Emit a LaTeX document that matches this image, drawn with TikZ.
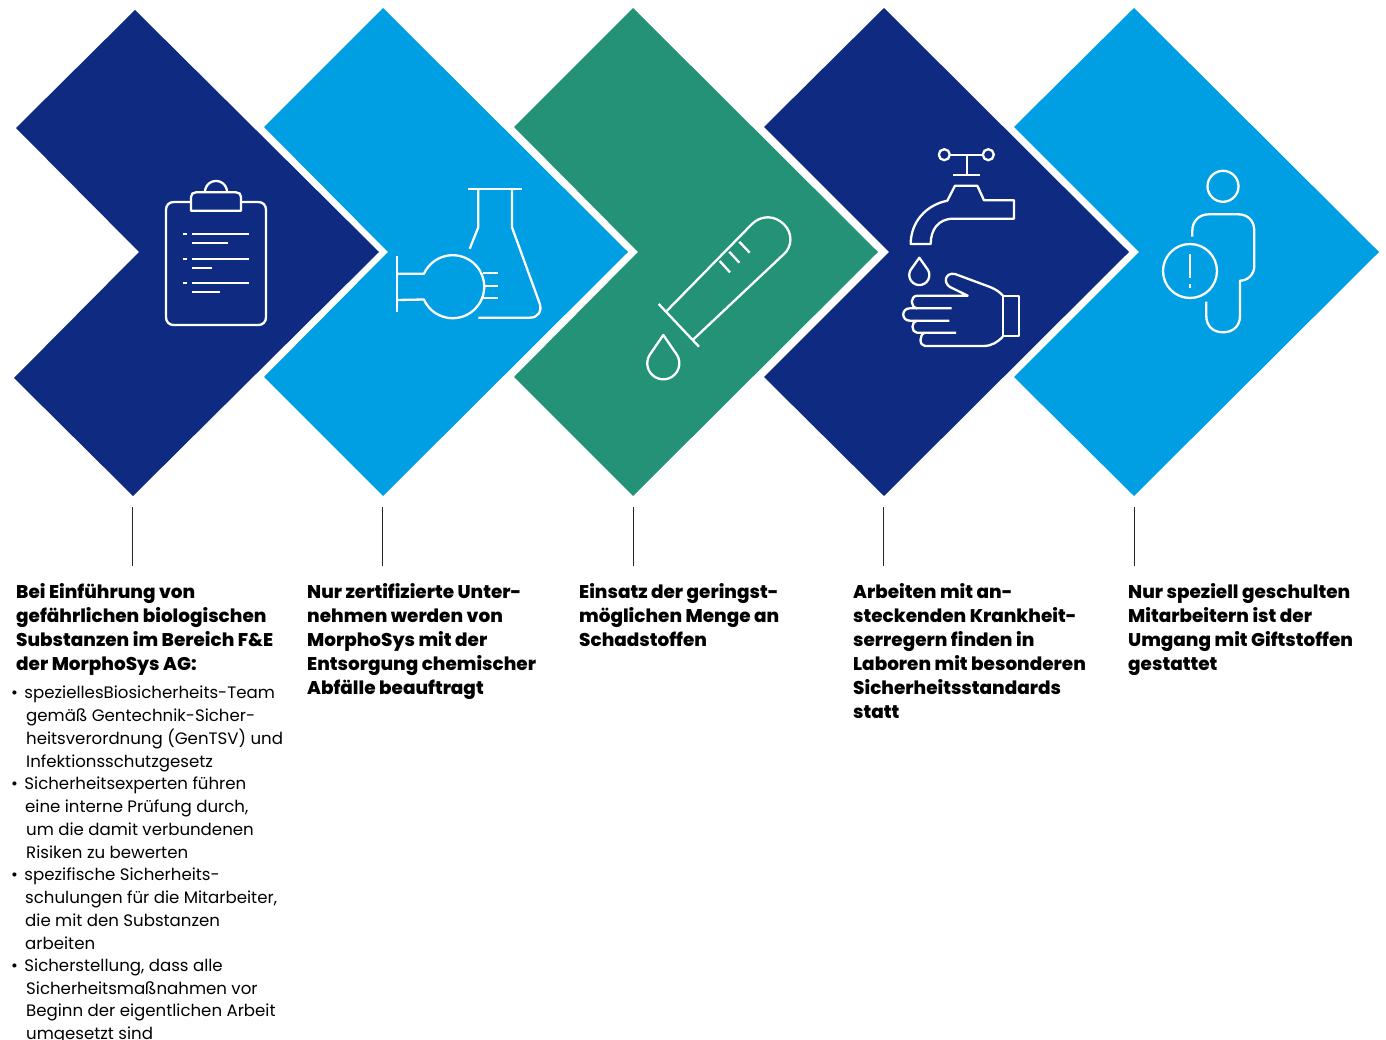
\documentclass[tikz,border=0pt]{standalone}
\usepackage{fontspec}
\setmainfont[BoldFont={Poppins ExtraBold}]{Poppins}
\definecolor{navy}{HTML}{0E2B81}
\definecolor{sky}{HTML}{009FE3}
\definecolor{teal}{HTML}{239277}
\tikzset{
  chev/.style={fill=#1,draw=none},
  icon/.style={draw=white,line width=2.3pt,line join=round},
  leader/.style={draw=black!85,line width=0.9pt},
  head/.style={anchor=north west,inner sep=0pt,align=left,font=\fontsize{18.4}{24}\selectfont\bfseries},
  body/.style={anchor=north west,inner sep=0pt,align=left,font=\fontsize{16.6}{22.75}\selectfont},
}
\newcommand{\chevron}[3]{% x of apex, colour, x of left corners
  \fill[chev=#2] (#1+0,8) -- (#1+245,252) -- (#1+0,496) -- (#3,377) -- (#1+5,252) -- (#3,127) -- cycle;
}
\newcommand{\droplet}[4]{% tip x, tip y, centre y, radius
  \draw[icon] plot[domain=-34:214,samples=40] ({#1+#4*cos(\x)},{#3+#4*sin(\x)}) -- (#1,#2) -- cycle;
}
\begin{document}
\begin{tikzpicture}[x=1pt,y=-1pt]
\useasboundingbox (0,0) rectangle (1386,1040);
% chevrons
\fill[chev=navy] (135,10) -- (379,252) -- (133,496) -- (14,378) -- (139,252) -- (16,128) -- cycle;
\chevron{383}{sky}{264}
\chevron{633}{teal}{514}
\chevron{884}{navy}{764}
\chevron{1134}{sky}{1014}
% clipboard
\draw[icon] (191,202) -- (174,202) .. controls (169,202) and (166,205) .. (166,210) -- (166,317) .. controls (166,322) and (169,325) .. (174,325) -- (258,325) .. controls (263,325) and (266,322) .. (266,317) -- (266,210) .. controls (266,205) and (263,202) .. (258,202) -- (241,202);
\draw[icon] (191,210.7) -- (191,197) .. controls (191,194) and (193,192.3) .. (196,192.3) -- (236,192.3) .. controls (239,192.3) and (241,194) .. (241,197) -- (241,210.7) -- cycle;
\draw[icon] plot[domain=180:360,samples=24] ({216+11*cos(\x)},{192+11*sin(\x)});
\foreach \y/\e in {234/249,243/228.3,258.7/249,267.7/212,283.3/249,292.3/220}{\draw[icon] (192,\y) -- (\e,\y);}
\foreach \y in {234,258.7,283.3}{\draw[icon] (183.3,\y) -- (187.3,\y);}
% flasks
\draw[icon] (468,189) -- (522,189);
\draw[icon] (469.7,248.7) -- (478.3,227.3) -- (478.3,189);
\draw[icon] (512,189) -- (512,227.3) -- (539.5,303) .. controls (542.5,311) and (538,317.7) .. (530,317.7) -- (478.3,317.7);
\draw[icon] (397.3,256) -- (397.3,311.7);
\draw[icon] (397.3,273.7) -- (424,273.7) -- plot[domain=-156:156,samples=60] ({452.7+31.5*cos(\x)},{286.7+31.5*sin(\x)}) -- (397.3,300);
\foreach \y in {272.7,285.7,298.3}{\draw[icon] (483,\y) -- (498.3,\y);}
% test tube
\draw[icon] (658.7,304) -- (699,346.7);
\draw[icon] (666.7,311) -- (752,224) .. controls (761,215) and (775,215) .. (784,224.5) .. controls (793,233) and (792,247) .. (784,254) -- (692.7,340);
\draw[icon] (739.3,241.7) -- (749.7,252.7);
\draw[icon] (729.3,251.7) -- (739.3,262.7);
\draw[icon] (719.7,261) -- (730,272.3);
\droplet{663.3}{335}{363.3}{16}
% tap
\draw[icon] (944.3,154.7) circle[radius=5.5];
\draw[icon] (988.3,154.7) circle[radius=5.5];
\draw[icon] (949.8,154.7) -- (982.8,154.7);
\draw[icon] (966.7,154.7) -- (966.7,175.3);
\draw[icon] (953.3,175.3) -- (980,175.3);
\draw[icon] (955,185.7) -- (977.3,185.7) -- (984,200.3) -- (1014,200.3) -- (1014,218.7) -- (953.3,218.7) .. controls (938,218.7) and (930.7,230) .. (930.7,244) -- (910.7,244) .. controls (910.7,222) and (926,205) .. (947.3,200.7) -- cycle;
\droplet{919.3}{257.7}{275}{10}
% hand
\draw[icon] (1003.3,296) rectangle (1019.3,336);
\draw[icon] (951.7,308.3) -- (917,308.3) .. controls (910,307) and (910,296) .. (917.3,295.7) -- (967.7,295.7) -- (950,287) .. controls (943,283) and (945,272) .. (955,274) -- (990,287) .. controls (995,289) and (1000,292) .. (1003.3,296);
\draw[icon] (917,308.3) -- (910,308.3) .. controls (901,308.3) and (901,320.7) .. (910,320.7) -- (949.3,320.7);
\draw[icon] (917,320.7) .. controls (911,321) and (911,332.7) .. (917,332.7) -- (956,332.7);
\draw[icon] (925,332.7) .. controls (919,334) and (919,346) .. (925,346) -- (983.3,346) .. controls (992,346) and (998,342) .. (1003.3,336);
% person with warning
\draw[icon] (1223,186.3) circle[radius=15.5];
\draw[icon] (1192.3,236.7) -- (1192.3,231) .. controls (1192.3,221) and (1199,214.3) .. (1209,214.3) -- (1238.3,214.3) .. controls (1248,214.3) and (1254.3,221) .. (1254.3,231) -- (1254.3,266) .. controls (1254.3,274) and (1248,280.7) .. (1240,280.7) -- (1240,316) .. controls (1240,326) and (1233,332.3) .. (1223,332.3) .. controls (1213,332.3) and (1206.3,326) .. (1206.3,316) -- (1206.3,301.7);
\draw[icon] (1190,271) circle[radius=27];
\draw[icon] (1190,254) -- (1190,278.3);
\draw[icon] (1190,284.3) -- (1190,288.3);
% leaders
\foreach \n/\x in {a/132.5,b/382,c/633.5,d/883,e/1134}{
  \coordinate (\n top) at (\x,507);
  \coordinate (\n bot) at (\x,566);
  \draw[leader] (\n top) -- (\n bot);
}
% headings
\node[head] (h1) at (16,583.5) {Bei Einführung von\\gefährlichen biologischen\\Substanzen im Bereich F\&E\\der MorphoSys AG:};
\node[head] (h2) at (307,583.5) {Nur zertifizierte Unter-\\nehmen werden von\\MorphoSys mit der\\Entsorgung chemischer\\Abfälle beauftragt};
\node[head] (h3) at (579,583.5) {Einsatz der geringst-\\möglichen Menge an\\Schadstoffen};
\node[head] (h4) at (853,583.5) {Arbeiten mit an-\\steckenden Krankheit-\\serregern finden in\\Laboren mit besonderen\\Sicherheitsstandards\\statt};
\node[head] (h5) at (1128,583.5) {Nur speziell geschulten\\Mitarbeitern ist der\\Umgang mit Giftstoffen\\gestattet};
% bullets
\node[body] (b1) at (11,686) {•\hspace{2pt} speziellesBiosicherheits-Team\\\hspace*{15pt}gemäß Gentechnik-Sicher-\\\hspace*{15pt}heitsverordnung (GenTSV) und\\\hspace*{15pt}Infektionsschutzgesetz};
\node[body] (b2) at (11,777) {•\hspace{2pt} Sicherheitsexperten führen\\\hspace*{14pt}eine interne Prüfung durch,\\\hspace*{15pt}um die damit verbundenen\\\hspace*{15pt}Risiken zu bewerten};
\node[body] (b3) at (11,868) {•\hspace{2pt} spezifische Sicherheits-\\\hspace*{14pt}schulungen für die Mitarbeiter,\\\hspace*{14pt}die mit den Substanzen\\\hspace*{14pt}arbeiten};
\node[body] (b4) at (11,958.5) {•\hspace{2pt} Sicherstellung, dass alle\\\hspace*{15pt}Sicherheitsmaßnahmen vor\\\hspace*{15pt}Beginn der eigentlichen Arbeit\\\hspace*{15pt}umgesetzt sind};
\end{tikzpicture}
\end{document}
